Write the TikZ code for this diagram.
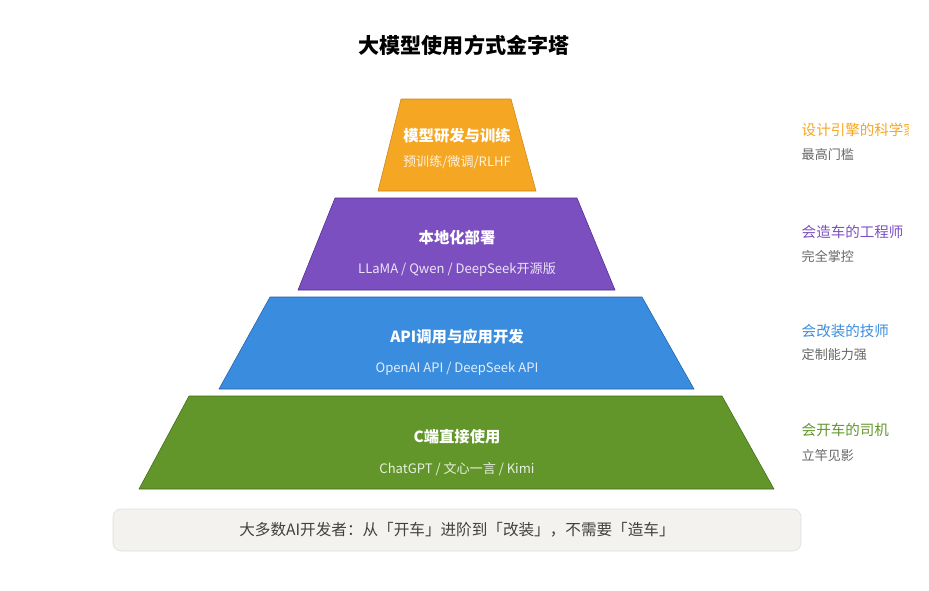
\documentclass[tikz,border=0pt]{standalone}
\usepackage{fontspec}
\setmainfont{Noto Sans CJK SC}
\definecolor{tierorange}{HTML}{F5A623}
\definecolor{tierorangeline}{HTML}{C8861A}
\definecolor{tierpurple}{HTML}{7C4FC0}
\definecolor{tierpurpleline}{HTML}{4E2A8E}
\definecolor{tierblue}{HTML}{3A8DDE}
\definecolor{tierblueline}{HTML}{1F5EA6}
\definecolor{tiergreen}{HTML}{62962A}
\definecolor{tiergreenline}{HTML}{3D6A17}
\definecolor{notegray}{HTML}{666666}
\definecolor{notefill}{HTML}{F3F2EE}
\definecolor{noteline}{HTML}{DCDCD8}
\tikzset{
  tiername/.style={text=white, font=\fontsize{11.5}{13}\selectfont\bfseries},
  tiertools/.style={text=white, text opacity=0.85, font=\fontsize{9.8}{12}\selectfont},
  rolename/.style={anchor=west, font=\fontsize{10.9}{12}\selectfont},
  rolenote/.style={anchor=west, text=notegray, font=\fontsize{9.8}{12}\selectfont}
}
\begin{document}
\begin{tikzpicture}[x=0.75pt, y=-0.75pt]
    \useasboundingbox (0,0) rectangle (929,590);
    \node[font=\fontsize{15.8}{18}\selectfont\bfseries] (title) at (464,45) {大模型使用方式金字塔};

    % Top tier: training
    \filldraw[fill=tierorange, draw=tierorangeline] (401,99) -- (511,99) -- (536,191) -- (378,191) -- cycle;
    \node[tiername] (train) at (457,136) {模型研发与训练};
    \node[tiertools] (traintools) at (457,162) {预训练/微调/RLHF};

    % Second tier: local deployment
    \filldraw[fill=tierpurple, draw=tierpurpleline] (335,198) -- (577,198) -- (615,290) -- (298,290) -- cycle;
    \node[tiername] (local) at (457,238) {本地化部署};
    \node[tiertools] (localtools) at (457,269) {LLaMA / Qwen / DeepSeek开源版};

    % Third tier: API
    \filldraw[fill=tierblue, draw=tierblueline] (270,297) -- (642,297) -- (694,389) -- (219,389) -- cycle;
    \node[tiername] (api) at (457,337) {API调用与应用开发};
    \node[tiertools] (apitools) at (457,369) {OpenAI API / DeepSeek API};

    % Bottom tier: direct use
    \filldraw[fill=tiergreen, draw=tiergreenline] (189,396) -- (722,396) -- (774,489) -- (139,489) -- cycle;
    \node[tiername] (app) at (457,437) {C端直接使用};
    \node[tiertools] (apptools) at (457,469) {ChatGPT / 文心一言 / Kimi};

    % Roles on the right
    \begin{scope}
      \clip (0,0) rectangle (908,590);
      \node[rolename, text=tierorange] (scientist) at (797,130) {设计引擎的科学家};
    \end{scope}
    \node[rolenote] (scientistnote) at (797,155) {最高门槛};
    \node[rolename, text=tierpurple] (engineer) at (797,232) {会造车的工程师};
    \node[rolenote] (engineernote) at (797,256) {完全掌控};
    \node[rolename, text=tierblue] (mechanic) at (797,331) {会改装的技师};
    \node[rolenote] (mechanicnote) at (797,355) {定制能力强};
    \node[rolename, text=tiergreen] (driver) at (797,430) {会开车的司机};
    \node[rolenote] (drivernote) at (797,455) {立竿见影};

    % Summary box
    \filldraw[fill=notefill, draw=noteline, rounded corners=6] (113,509) rectangle (801,551);
    \node[text=black!75, font=\fontsize{11.7}{14}\selectfont] (summary) at (457,530) {大多数AI开发者：从「开车」进阶到「改装」，不需要「造车」};
\end{tikzpicture}
\end{document}
